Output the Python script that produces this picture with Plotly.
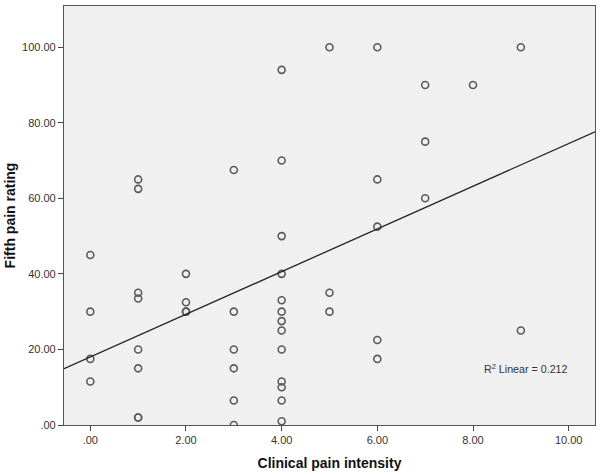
import numpy as np
import plotly.graph_objects as go

# Data
clinical_pain = [0, 0, 0, 0,
                 1, 1, 1, 1, 1, 1, 1, 1,
                 2, 2, 2, 2,
                 3, 3, 3, 3, 3, 3,
                 4, 4, 4, 4, 4, 4, 4, 4, 4, 4, 4, 4, 4,
                 5, 5, 5,
                 6, 6, 6, 6, 6,
                 7, 7, 7,
                 8,
                 9, 9]
fifth_rating = [45, 30, 17.5, 11.5,
                65, 62.5, 35, 33.5, 20, 15, 2, 2,
                40, 32.5, 30, 30,
                67.5, 30, 20, 15, 6.5, 0,
                94, 70, 50, 40, 33, 30, 27.5, 25, 20, 11.5, 10, 6.5, 1,
                100, 35, 30,
                100, 65, 52.5, 22.5, 17.5,
                90, 75, 60,
                90,
                100, 25]

x_tickvals = [0, 2, 4, 6, 8, 10]
x_ticktext = [".00", "2.00", "4.00", "6.00", "8.00", "10.00"]
y_tickvals = [0, 20, 40, 60, 80, 100]
y_ticktext = [".00", "20.00", "40.00", "60.00", "80.00", "100.00"]

fit_intercept = 18.0
fit_slope = 5.65
r2_label = "R<sup>2</sup> Linear = 0.212"

x_range = [-0.55, 10.55]
y_range = [0, 110.9]

fig = go.Figure()
fig.add_trace(go.Scatter(
    x=clinical_pain, y=fifth_rating, mode="markers",
    marker=dict(symbol="circle-open", size=7, color="#5a5a5a", line=dict(width=1.6)),
    showlegend=False))

line_x = np.array(x_range)
fig.add_trace(go.Scatter(
    x=line_x, y=fit_intercept + fit_slope * line_x, mode="lines",
    line=dict(color="#222222", width=1.3), showlegend=False))

fig.add_annotation(x=9.1, y=15, text=r2_label, showarrow=False,
                   font=dict(size=10.7, color="#333333", family="Liberation Sans"),
                   xanchor="center", yanchor="middle")

axis_common = dict(showgrid=False, zeroline=False, showline=True, linecolor="#555555",
                   linewidth=1.2, mirror=True, ticks="outside", ticklen=5, tickwidth=1.2,
                   tickcolor="#444444", automargin=False,
                   tickfont=dict(size=11, color="#333333", family="Liberation Sans"))

fig.update_xaxes(range=x_range, tickvals=x_tickvals, ticktext=x_ticktext,
                 title=dict(text="<b>Clinical pain intensity</b>", standoff=12,
                            font=dict(size=14, color="#111111", family="Liberation Sans")),
                 **axis_common)
fig.update_yaxes(range=y_range, tickvals=y_tickvals, ticktext=y_ticktext,
                 title=dict(text="<b>Fifth pain rating</b>", standoff=3,
                            font=dict(size=14, color="#111111", family="Liberation Sans")),
                 **axis_common)

fig.update_layout(width=601, height=476, plot_bgcolor="#f0f0f0", paper_bgcolor="white",
                  margin=dict(l=64, r=6, t=6, b=51))

fig.write_html("out.html", config={"displayModeBar": False},
               post_script="document.body.style.margin='0px';")
